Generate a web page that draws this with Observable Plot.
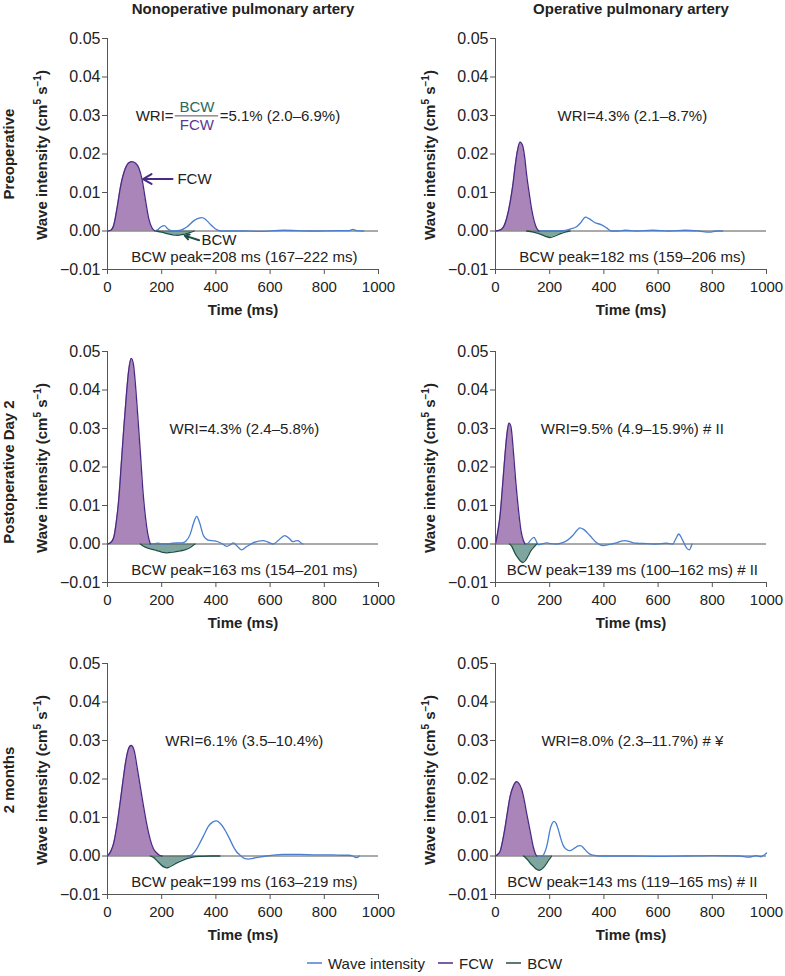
<!DOCTYPE html>
<html><head><meta charset="utf-8">
<script src="https://cdn.jsdelivr.net/npm/d3@7"></script>
<script src="https://cdn.jsdelivr.net/npm/@observablehq/plot@0.6"></script>
<style>
body{margin:0;background:#fff;font-family:"Liberation Sans",Arial,sans-serif;}
#fig{position:relative;width:785px;height:976px;overflow:hidden;}
#legend{position:absolute;top:953px;left:307px;height:20px;display:flex;align-items:center;font-size:15px;color:#222;white-space:nowrap;}
#legend span.item{display:inline-flex;align-items:center;margin-right:13px;}
#legend svg{margin-right:6px;}
</style>
</head><body><div id="fig"><div id="legend"></div></div>
<script>
// ---------- data ----------
const columnTitles = ["Nonoperative pulmonary artery", "Operative pulmonary artery"];
const rowLabels = ["Preoperative", "Postoperative Day 2", "2 months"];
const xTicks = [0, 200, 400, 600, 800, 1000];
const yTicks = [-0.01, 0, 0.01, 0.02, 0.03, 0.04, 0.05];
const legendLabels = ["Wave intensity", "FCW", "BCW"];

// Preoperative, nonoperative
const preNonFcw = [[0,0],[12,0.0002],[23,0.0015],[36,0.0063],[48,0.0115],[66,0.0163],[80,0.0178],[90,0.018],[104,0.0176],[116,0.0163],[128,0.0132],[140,0.0081],[152,0.0033],[165,0.0007],[175,0]];
const preNonBcw = [[180,0],[200,-0.0003],[220,-0.0007],[240,-0.001],[260,-0.0011],[280,-0.0009],[300,-0.0005],[320,0]];
const preNonWi = [[175,0],[185,0.0003],[198,0.0011],[210,0.0014],[222,0.0006],[235,0.0001],[250,0],[270,0.0002],[294,0.0011],[319,0.0027],[341,0.0034],[349,0.0035],[362,0.003],[380,0.0017],[399,0.0005],[417,0],[440,0],[500,0],[560,-0.0001],[650,0.0002],[750,0],[850,0.0001],[890,0.0001],[905,0.0004],[920,0.0001],[945,0]];

// Preoperative, operative
const preOpFcw = [[0,0],[15,0.0002],[29,0.001],[42,0.0035],[54,0.0075],[65,0.0125],[72,0.0166],[80,0.0205],[91,0.0231],[100,0.0222],[108,0.019],[115,0.0145],[125,0.0095],[134,0.0054],[143,0.0025],[152,0.0007],[160,0]];
const preOpBcw = [[115,0],[140,-0.0003],[165,-0.0008],[185,-0.0014],[201,-0.0017],[220,-0.0013],[240,-0.0007],[260,-0.0002],[275,0]];
const preOpWi = [[160,0],[200,0],[250,0.0001],[275,0.0005],[299,0.0011],[315,0.0022],[332,0.0036],[345,0.0032],[366,0.0022],[391,0.0016],[410,0.0008],[428,0],[450,0],[480,0.0002],[520,0],[580,0.0002],[640,0],[700,0.0002],[750,0],[790,-0.0003],[815,0],[838,0]];

// Postoperative Day 2, nonoperative
const d2NonFcw = [[0,0],[12,0.0004],[23,0.0017],[32,0.0055],[42,0.012],[51,0.021],[60,0.03],[70,0.039],[78,0.045],[88,0.0482],[96,0.0465],[103,0.0415],[112,0.033],[121,0.024],[130,0.0145],[140,0.007],[149,0.0025],[158,0]];
const d2NonBcw = [[121,0],[133,-0.0006],[146,-0.001],[165,-0.0014],[182,-0.0017],[200,-0.0021],[219,-0.0023],[240,-0.0021],[268,-0.0018],[290,-0.0014],[305,-0.0009],[315,-0.0004],[323,0]];
const d2NonWi = [[158,0],[175,0.0001],[188,0.0002],[200,0],[230,0.0001],[256,0.0003],[275,0.0003],[290,0.0008],[305,0.0025],[318,0.0055],[329,0.0072],[340,0.0055],[354,0.0022],[372,0.001],[397,0.0008],[420,0.0002],[440,-0.0006],[455,-0.0001],[464,0.0003],[478,-0.0005],[494,-0.0015],[515,-0.0006],[537,0.0003],[574,0.0009],[592,0.0005],[611,0],[630,0.0009],[654,0.0022],[670,0.0015],[684,0.0006],[694,0.0008],[703,0.0009],[712,0.0004],[721,0]];

// Postoperative Day 2, operative
const d2OpFcw = [[0,0],[8,0.003],[17,0.0075],[27,0.016],[36,0.024],[43,0.029],[50,0.0314],[57,0.0305],[66,0.024],[75,0.016],[85,0.0087],[94,0.0035],[103,0.0009],[109,0]];
const d2OpBcw = [[51,0],[60,-0.0006],[66,-0.0015],[75,-0.0028],[85,-0.0038],[93,-0.0045],[100,-0.0048],[110,-0.0043],[121,-0.003],[130,-0.0018],[140,-0.0009],[152,0]];
const d2OpWi = [[109,0],[120,0.0002],[132,0.0012],[142,0.0017],[150,0.0008],[158,-0.0002],[170,0],[189,0.0003],[205,0.0001],[225,0],[245,0.0003],[262,0.0008],[285,0.0022],[300,0.0035],[311,0.0042],[325,0.0038],[348,0.0022],[370,0.0005],[397,-0.0004],[420,-0.0001],[446,0.0003],[462,0.0007],[477,0.0009],[495,0.0006],[520,0.0002],[560,0.0001],[593,0],[630,0.0002],[654,0],[665,0.0013],[676,0.0026],[687,0.0015],[697,0],[707,-0.0012],[716,-0.0015],[721,-0.0008],[725,0]];

// 2 months, nonoperative
const m2NonFcw = [[0,0],[12,0.0012],[23,0.0034],[36,0.0085],[48,0.0146],[58,0.02],[66,0.024],[76,0.0275],[87,0.0287],[98,0.0275],[109,0.0232],[121,0.018],[133,0.0129],[145,0.0082],[158,0.0042],[170,0.0018],[182,0.0008],[192,0.0002],[201,0]];
const m2NonBcw = [[158,0],[170,-0.0004],[182,-0.0012],[192,-0.0019],[201,-0.0025],[210,-0.0029],[219,-0.0031],[230,-0.0028],[243,-0.0023],[256,-0.0018],[275,-0.0012],[293,-0.0007],[315,-0.0003],[341,-0.0001],[380,0],[415,0]];
const m2NonWi = [[293,0],[311,0.0003],[326,0.0015],[341,0.0034],[357,0.0056],[372,0.0077],[388,0.0088],[403,0.0091],[418,0.0083],[433,0.0068],[449,0.0047],[464,0.0025],[476,0.0011],[488,0.0003],[498,-0.0003],[507,-0.0007],[520,-0.0008],[537,-0.0006],[560,-0.0003],[586,0],[620,0.0003],[647,0.0004],[709,0.0004],[770,0.0003],[831,0.0003],[870,0.0002],[892,0.0002],[905,0],[917,-0.0004],[925,-0.0003],[929,0]];

// 2 months, operative
const m2OpFcw = [[0,0],[8,0.0004],[17,0.0012],[27,0.0042],[36,0.0077],[45,0.0118],[54,0.0155],[65,0.018],[78,0.0193],[88,0.0187],[97,0.0172],[106,0.0145],[115,0.0111],[125,0.0075],[134,0.0042],[140,0.0022],[146,0.0008],[152,0]];
const m2OpBcw = [[103,0],[112,-0.0005],[121,-0.0012],[130,-0.002],[140,-0.0027],[150,-0.0034],[162,-0.0037],[172,-0.0033],[183,-0.0025],[192,-0.0015],[199,-0.0008],[207,0]];
const m2OpWi = [[152,0],[165,0],[176,0.0002],[183,0.0012],[189,0.0025],[195,0.0045],[201,0.0068],[208,0.0083],[216,0.009],[224,0.0084],[232,0.0068],[241,0.0045],[250,0.0027],[262,0.0017],[274,0.0014],[285,0.0017],[293,0.0021],[305,0.0026],[314,0.0027],[325,0.0021],[336,0.0012],[348,0.0005],[360,0.0002],[380,0],[397,0],[500,0],[600,-0.0001],[700,0],[800,0.0001],[900,0],[936,-0.0003],[950,-0.0001],[961,0.0001],[979,-0.0002],[990,0.0002],[1000,0.0008]];

const wriTexts = [
  ["=5.1% (2.0–6.9%)", "WRI=4.3% (2.1–8.7%)"],
  ["WRI=4.3% (2.4–5.8%)", "WRI=9.5% (4.9–15.9%) # II"],
  ["WRI=6.1% (3.5–10.4%)", "WRI=8.0% (2.3–11.7%) # ¥"]
];
const peakTexts = [
  ["BCW peak=208 ms (167–222 ms)", "BCW peak=182 ms (159–206 ms)"],
  ["BCW peak=163 ms (154–201 ms)", "BCW peak=139 ms (100–162 ms) # II"],
  ["BCW peak=199 ms (163–219 ms)", "BCW peak=143 ms (119–165 ms) # II"]
];
const panelSeries = [
  [[preNonFcw, preNonBcw, preNonWi], [preOpFcw, preOpBcw, preOpWi]],
  [[d2NonFcw, d2NonBcw, d2NonWi], [d2OpFcw, d2OpBcw, d2OpWi]],
  [[m2NonFcw, m2NonBcw, m2NonWi], [m2OpFcw, m2OpBcw, m2OpWi]]
];

// ---------- style ----------
const WI_COLOR = "#4a7fcf";
const FCW_FILL = "#a985b9";
const FCW_STROKE = "#4a2a84";
const BCW_FILL = "#7ea69f";
const BCW_STROKE = "#1f4f47";
const TEXT = "#222";
const AXIS = "#555";
const FONT = "'Liberation Sans', Arial, sans-serif";
const W = 392, H = 330;
const colLeft = [0, 388];
const rowTop = [0, 313, 625];
const rowLabelDy = [0, 5, 1];
const Y_LABEL = "Wave intensity (cm5 s−1)";

const X = d => d[0], Y = d => d[1];
const fig = document.getElementById("fig");

for (let r = 0; r < 3; r++) {
  for (let c = 0; c < 2; c++) {
    const [fcw, bcw, wi] = panelSeries[r][c];
    const marks = [
      Plot.areaY(fcw, {x: X, y: Y, fill: FCW_FILL, curve: "monotone-x"}),
      Plot.areaY(bcw, {x: X, y: Y, fill: BCW_FILL, curve: "monotone-x"}),
      Plot.ruleY([0], {stroke: "#555", strokeWidth: 1}),
      Plot.lineY(wi, {x: X, y: Y, stroke: WI_COLOR, strokeWidth: 1.3, curve: "monotone-x"}),
      Plot.lineY(fcw, {x: X, y: Y, stroke: FCW_STROKE, strokeWidth: 1.3, curve: "monotone-x"}),
      Plot.lineY(bcw, {x: X, y: Y, stroke: BCW_STROKE, strokeWidth: 1.3, curve: "monotone-x"}),
      Plot.ruleX([0], {stroke: AXIS}),
      Plot.ruleY([-0.01], {stroke: AXIS}),
      Plot.axisX({ticks: xTicks, tickFormat: d3.format("d"), tickSize: 5, tickPadding: 7, fontSize: 15, label: null, stroke: AXIS, fill: TEXT}),
      Plot.axisY({ticks: yTicks, tickFormat: d3.format(".2f"), tickSize: 5, tickPadding: 2, fontSize: 16, label: null, stroke: AXIS, fill: TEXT}),
      Plot.text(["Time (ms)"], {frameAnchor: "bottom", lineAnchor: "middle", dy: 41, fontWeight: "bold", fontSize: 15, fill: TEXT}),
      Plot.text([Y_LABEL], {frameAnchor: "left", textAnchor: "middle", lineAnchor: "middle", dx: -65, dy: 1, rotate: -90, fontWeight: "bold", fontSize: 15, fill: TEXT, className: "ylab"}),
      Plot.text([peakTexts[r][c]], {x: () => 505, y: () => -0.0068, fontSize: 15, fill: TEXT})
    ];
    if (c === 0) {
      marks.push(Plot.text([rowLabels[r]], {frameAnchor: "left", textAnchor: "middle", lineAnchor: "middle", dx: -98, dy: rowLabelDy[r], rotate: -90, fontWeight: "bold", fontSize: 15, fill: TEXT}));
    }
    if (r === 0) {
      marks.push(Plot.text([columnTitles[c]], {frameAnchor: "top", lineAnchor: "middle", dy: -29, fontWeight: "bold", fontSize: 15, fill: TEXT}));
    }
    if (r === 0 && c === 0) {
      marks.push(
        Plot.text(["WRI="], {x: () => 244, y: () => 0.0297, textAnchor: "end", fontSize: 15, fill: TEXT}),
        Plot.text(["BCW"], {x: () => 330, y: () => 0.0322, fontSize: 15, fill: "#2b6a61"}),
        Plot.ruleY([0.0299], {x1: 250, x2: 410, stroke: "#555", strokeWidth: 1}),
        Plot.text(["FCW"], {x: () => 330, y: () => 0.0274, fontSize: 15, fill: "#5a3a94"}),
        Plot.text([wriTexts[r][c]], {x: () => 414, y: () => 0.0297, textAnchor: "start", fontSize: 15, fill: TEXT}),
        Plot.arrow([0], {x1: () => 240, y1: () => 0.0135, x2: () => 131, y2: () => 0.0135, stroke: FCW_STROKE, strokeWidth: 2, headLength: 9}),
        Plot.text(["FCW"], {x: () => 258, y: () => 0.0135, textAnchor: "start", fontSize: 15, fill: TEXT}),
        Plot.arrow([0], {x1: () => 338, y1: () => -0.0024, x2: () => 285, y2: () => -0.0012, stroke: BCW_STROKE, strokeWidth: 2, headLength: 9}),
        Plot.text(["BCW"], {x: () => 347, y: () => -0.0024, textAnchor: "start", fontSize: 15, fill: TEXT})
      );
    } else {
      marks.push(Plot.text([wriTexts[r][c]], {x: () => 505, y: () => 0.0297, fontSize: 15, fill: TEXT}));
    }
    const svg = Plot.plot({
      width: W, height: H,
      marginLeft: 107, marginRight: 14, marginTop: 38, marginBottom: 61,
      x: {domain: [0, 1000]},
      y: {domain: [-0.01, 0.05]},
      style: {fontFamily: FONT, background: "transparent", overflow: "visible"},
      marks
    });
    svg.style.position = "absolute";
    svg.style.left = colLeft[c] + "px";
    svg.style.top = rowTop[r] + "px";
    svg.style.maxWidth = "none";
    // superscripts in the y-axis label
    d3.select(svg).selectAll("text").filter(function() { return this.textContent === Y_LABEL; }).each(function() {
      const t = d3.select(this).text(null);
      t.append("tspan").text("Wave intensity (cm");
      t.append("tspan").attr("font-size", 10).attr("dy", -6).text("5");
      t.append("tspan").attr("dy", 6).text(" s");
      t.append("tspan").attr("font-size", 10).attr("dy", -6).text("−1");
      t.append("tspan").attr("dy", 6).text(")");
    });
    fig.appendChild(svg);
  }
}

// legend
const legendColors = [WI_COLOR, FCW_STROKE, BCW_STROKE];
const legend = d3.select("#legend");
legendLabels.forEach((lab, i) => {
  const item = legend.append("span").attr("class", "item");
  const s = item.append("svg").attr("width", 15).attr("height", 10);
  s.append("line").attr("x1", 0).attr("x2", 15).attr("y1", 5).attr("y2", 5).attr("stroke", legendColors[i]).attr("stroke-width", 1.5);
  item.append("span").text(lab);
});
</script>
</body></html>
